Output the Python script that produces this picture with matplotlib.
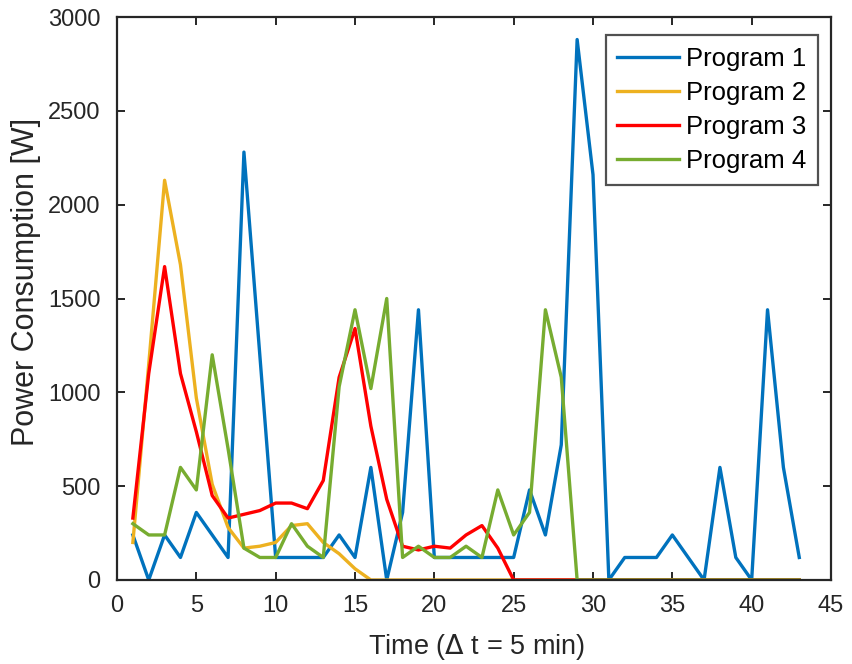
import matplotlib
matplotlib.use("Agg")
import matplotlib.pyplot as plt
import numpy as np

plt.rcParams['font.family'] = ['Liberation Sans', 'DejaVu Sans']

# time steps (Δt = 5 min)
t = list(range(1, 44))

program1 = [240, 0, 240, 120, 360, 240, 120, 2280, 1200, 120,
            120, 120, 120, 240, 120, 600, 0, 360, 1440, 120,
            120, 120, 120, 120, 120, 480, 240, 720, 2880, 2160,
            0, 120, 120, 120, 240, 120, 0, 600, 120, 0,
            1440, 600, 120]
program2 = [200, 1150, 2130, 1680, 970, 510, 280, 170, 180, 200,
            290, 300, 200, 140, 60, 0, 0, 0, 0, 0,
            0, 0, 0, 0, 0, 0, 0, 0, 0, 0,
            0, 0, 0, 0, 0, 0, 0, 0, 0, 0,
            0, 0, 0]
program3 = [330, 1100, 1670, 1100, 790, 450, 330, 350, 370, 410,
            410, 380, 530, 1080, 1340, 820, 430, 180, 160, 180,
            170, 240, 290, 170, 0, 0, 0, 0, 0, 0,
            0, 0, 0, 0, 0, 0, 0, 0, 0, 0,
            0, 0, 0]
program4 = [300, 240, 240, 600, 480, 1200, 700, 170, 120, 120,
            300, 180, 120, 1030, 1440, 1020, 1500, 120, 180, 120,
            120, 180, 120, 480, 240, 360, 1440, 1080, 0, 0,
            0, 0, 0, 0, 0, 0, 0, 0, 0, 0,
            0, 0, 0]

series = [program1, program2, program3, program4]
labels = ['Program 1', 'Program 2', 'Program 3', 'Program 4']
colors = ['#0072BD', '#EDB120', '#FF0000', '#77AC30']

W, H = 852, 664
fig = plt.figure(figsize=(W / 100, H / 100), dpi=100)
ax = fig.add_axes([117 / W, 1 - 580 / H, (831 - 117) / W, (580 - 17) / H])

for y, lab, c in zip(series, labels, colors):
    ax.plot(t, y, color=c, linewidth=2.4, label=lab)

ax.set_xlim(0, 45)
ax.set_ylim(0, 3000)
ax.set_xticks(np.arange(0, 46, 5))
ax.set_yticks(np.arange(0, 3001, 500))

edge = '#262626'
for s in ax.spines.values():
    s.set_color(edge)
    s.set_linewidth(1.6)
ax.tick_params(direction='in', top=True, right=True, length=6, width=1.4,
               colors=edge, labelsize=17, labelcolor=edge)
ax.tick_params(axis='x', pad=11)
ax.tick_params(axis='y', pad=12)

ax.set_xlabel('Time ($\\Delta$ t = 5 min)', fontsize=19.5, color=edge)
ax.set_ylabel('Power Consumption [W]', fontsize=22, color=edge)
ax.xaxis.set_label_coords((477 - 117) / (831 - 117), -(647 - 580) / (580 - 17))
ax.yaxis.set_label_coords(-(117 - 26) / (831 - 117), (580 - 282) / (580 - 17))
ax.xaxis.label.set_va('center')
ax.yaxis.label.set_va('center')

leg = ax.legend(loc='upper right', fontsize=18.5, frameon=True, fancybox=False,
                edgecolor=edge, handlelength=2.4, borderpad=0.45,
                labelspacing=0.4, handletextpad=0.28, borderaxespad=0,
                bbox_to_anchor=((818 - 117) / (831 - 117), (580 - 35) / (580 - 17)))
leg.get_frame().set_linewidth(1.6)
for h in leg.get_lines():
    h.set_linewidth(2.4)

fig.savefig('out.png', dpi=100, facecolor='white')
